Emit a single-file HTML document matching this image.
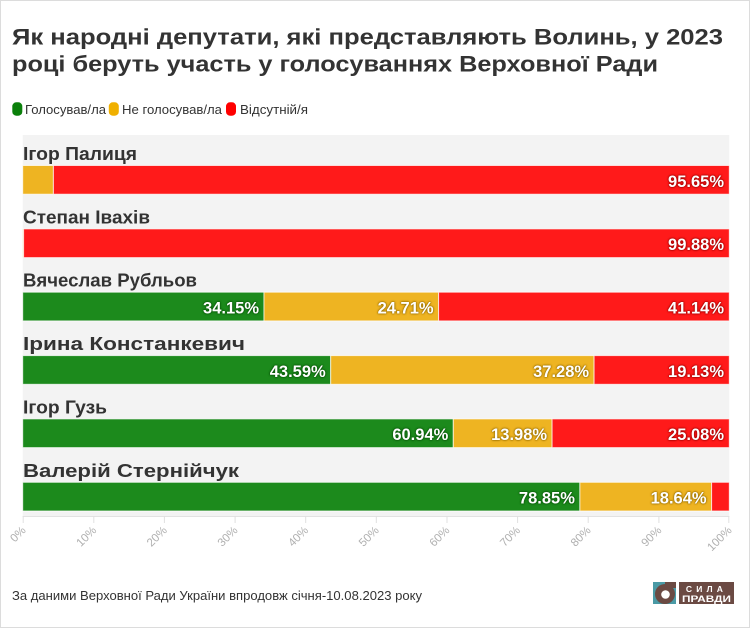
<!DOCTYPE html>
<html><head><meta charset="utf-8"><style>
html,body{margin:0;padding:0;background:#fff;}
svg{display:block;font-family:"Liberation Sans",sans-serif;}
.g{text-shadow:0 0 1px #0a560a,0 0 2px #0a560a,0 0 2px #0a560a;}
.y{text-shadow:0 0 1px #9a7000,0 0 2px #9a7000,0 0 2px #9a7000;}
.r{text-shadow:0 0 1px #a00000,0 0 2px #a00000,0 0 2px #a00000;}
</style></head><body>
<svg width="751" height="628" viewBox="0 0 751 628" xmlns="http://www.w3.org/2000/svg">
<rect x="0.5" y="0.5" width="749" height="627" fill="#fff" stroke="#dcdcdc" stroke-width="1"/>
<!-- title -->
<text x="12" y="44.5" font-size="22.5" font-weight="bold" fill="#333" textLength="711" lengthAdjust="spacingAndGlyphs">Як народні депутати, які представляють Волинь, у 2023</text>
<text x="12" y="71.5" font-size="22.5" font-weight="bold" fill="#333" textLength="646" lengthAdjust="spacingAndGlyphs">році беруть участь у голосуваннях Верховної Ради</text>
<!-- legend -->
<rect x="12.3" y="102.3" width="10" height="13.4" rx="4" fill="#0b800b"/>
<text x="25" y="114" font-size="13" fill="#333" textLength="81" lengthAdjust="spacingAndGlyphs">Голосував/ла</text>
<rect x="108.8" y="102.3" width="10" height="13.4" rx="4" fill="#f0b000"/>
<text x="122" y="114" font-size="13" fill="#333" textLength="100" lengthAdjust="spacingAndGlyphs">Не голосував/ла</text>
<rect x="226" y="102.3" width="10" height="13.4" rx="4" fill="#ff0000"/>
<text x="240" y="114" font-size="13" fill="#333" textLength="68" lengthAdjust="spacingAndGlyphs">Відсутній/я</text>
<!-- panel -->
<rect x="22.7" y="135" width="706.6" height="381" fill="#f3f3f3"/>
<!-- axis -->
<line x1="22.7" y1="516.5" x2="729.3" y2="516.5" stroke="#e2e2e2" stroke-width="1"/>
<g stroke="#e0e0e0" stroke-width="1">
<line x1="23.2" y1="516" x2="23.2" y2="523"/>
<line x1="93.8" y1="516" x2="93.8" y2="523"/>
<line x1="164.4" y1="516" x2="164.4" y2="523"/>
<line x1="235.1" y1="516" x2="235.1" y2="523"/>
<line x1="305.7" y1="516" x2="305.7" y2="523"/>
<line x1="376.3" y1="516" x2="376.3" y2="523"/>
<line x1="447.0" y1="516" x2="447.0" y2="523"/>
<line x1="517.6" y1="516" x2="517.6" y2="523"/>
<line x1="588.2" y1="516" x2="588.2" y2="523"/>
<line x1="658.9" y1="516" x2="658.9" y2="523"/>
<line x1="728.8" y1="516" x2="728.8" y2="523"/>
</g>
<g font-size="11.5" fill="#b0b0b0" text-anchor="end">
<text transform="translate(26.5,531) rotate(-45)">0%</text>
<text transform="translate(97.1,531) rotate(-45)">10%</text>
<text transform="translate(167.7,531) rotate(-45)">20%</text>
<text transform="translate(238.4,531) rotate(-45)">30%</text>
<text transform="translate(309.0,531) rotate(-45)">40%</text>
<text transform="translate(379.6,531) rotate(-45)">50%</text>
<text transform="translate(450.3,531) rotate(-45)">60%</text>
<text transform="translate(520.9,531) rotate(-45)">70%</text>
<text transform="translate(591.5,531) rotate(-45)">80%</text>
<text transform="translate(662.2,531) rotate(-45)">90%</text>
<text transform="translate(732.5,531) rotate(-45)">100%</text>
</g>
<!-- row labels -->
<g font-size="18.5" font-weight="bold" fill="#333">
<text x="23" y="160" textLength="114" lengthAdjust="spacingAndGlyphs">Ігор Палиця</text>
<text x="23" y="223.4" textLength="127" lengthAdjust="spacingAndGlyphs">Степан Іваxів</text>
<text x="23" y="286.7" textLength="174" lengthAdjust="spacingAndGlyphs">Вячеслав Рубльов</text>
<text x="23" y="350.1" textLength="222" lengthAdjust="spacingAndGlyphs">Ірина Констанкевич</text>
<text x="23" y="413.4" textLength="84" lengthAdjust="spacingAndGlyphs">Ігор Гузь</text>
<text x="23" y="476.8" textLength="216" lengthAdjust="spacingAndGlyphs">Валерій Стернійчук</text>
</g>
<!-- bars -->
<g stroke="#fff" stroke-opacity="0.7" stroke-width="1">
<rect x="22.7" y="165.5" width="30.7" height="28.7" fill="#eeb422"/>
<rect x="53.4" y="165.5" width="675.9" height="28.7" fill="#ff1a1a"/>

<rect x="22.7" y="228.9" width="0.9" height="28.7" fill="#eeb422"/>
<rect x="23.6" y="228.9" width="705.7" height="28.7" fill="#ff1a1a"/>

<rect x="22.7" y="292.2" width="241.3" height="28.7" fill="#1c8a1c"/>
<rect x="264.0" y="292.2" width="174.6" height="28.7" fill="#eeb422"/>
<rect x="438.6" y="292.2" width="290.7" height="28.7" fill="#ff1a1a"/>

<rect x="22.7" y="355.6" width="308.0" height="28.7" fill="#1c8a1c"/>
<rect x="330.7" y="355.6" width="263.4" height="28.7" fill="#eeb422"/>
<rect x="594.1" y="355.6" width="135.2" height="28.7" fill="#ff1a1a"/>

<rect x="22.7" y="418.9" width="430.6" height="28.7" fill="#1c8a1c"/>
<rect x="453.3" y="418.9" width="98.8" height="28.7" fill="#eeb422"/>
<rect x="552.1" y="418.9" width="177.2" height="28.7" fill="#ff1a1a"/>

<rect x="22.7" y="482.3" width="557.2" height="28.7" fill="#1c8a1c"/>
<rect x="579.9" y="482.3" width="131.7" height="28.7" fill="#eeb422"/>
<rect x="711.6" y="482.3" width="17.7" height="28.7" fill="#ff1a1a"/>
</g>
<!-- value labels -->
<g font-size="16.5" font-weight="bold" fill="#fff" text-anchor="end">
<text class="r" x="724" y="186.8">95.65%</text>
<text class="r" x="724" y="250.2">99.88%</text>
<text class="g" x="259" y="313.5">34.15%</text>
<text class="y" x="433.6" y="313.5">24.71%</text>
<text class="r" x="724" y="313.5">41.14%</text>
<text class="g" x="325.7" y="376.9">43.59%</text>
<text class="y" x="589.1" y="376.9">37.28%</text>
<text class="r" x="724" y="376.9">19.13%</text>
<text class="g" x="448.3" y="440.2">60.94%</text>
<text class="y" x="547.1" y="440.2">13.98%</text>
<text class="r" x="724" y="440.2">25.08%</text>
<text class="g" x="574.9" y="503.6">78.85%</text>
<text class="y" x="706.6" y="503.6">18.64%</text>
</g>
<!-- footer -->
<text x="12" y="600" font-size="13" fill="#333" textLength="410" lengthAdjust="spacingAndGlyphs">За даними Верховної Ради України впродовж січня-10.08.2023 року</text>
<!-- logo -->
<rect x="653" y="582" width="23" height="22" fill="#4a9aa5"/>
<circle cx="665" cy="594" r="10" fill="#6b4a43"/>
<rect x="665" y="582" width="11" height="6" fill="#6b4a43"/>
<circle cx="665.5" cy="594.5" r="4.3" fill="#fff"/>
<rect x="679" y="582" width="55" height="22" fill="#6b4a43"/>
<text x="706.5" y="592" font-size="8.5" font-weight="bold" fill="#fff" text-anchor="middle" letter-spacing="4.2">СИЛА</text>
<text x="706.5" y="602" font-size="9" font-weight="bold" fill="#fff" text-anchor="middle" textLength="49" lengthAdjust="spacingAndGlyphs">ПРАВДИ</text>
</svg>
</body></html>
